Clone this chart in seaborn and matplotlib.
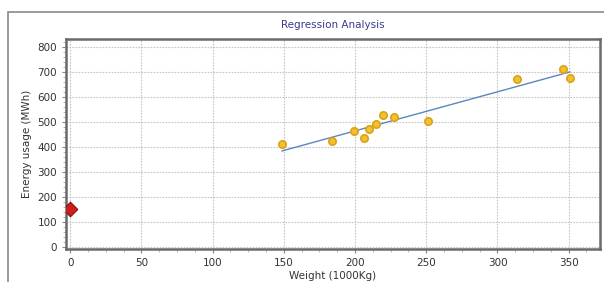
import numpy as np
import pandas as pd
import matplotlib
matplotlib.use("Agg")
import matplotlib.pyplot as plt
from matplotlib.ticker import MultipleLocator
from matplotlib.patches import Rectangle
import seaborn as sns

# data
weight = [148.6, 183.6, 199, 206, 209.5, 214.4, 219.9, 227, 251, 313.7, 346, 351]
energy = [410, 423, 462, 434, 469, 491, 528, 518, 502, 672, 709, 674]
baseline_x = [0]
baseline_y = [151]

df = pd.DataFrame({"Weight": weight, "Energy": energy})

sns.set_style("white")
plt.rcParams["font.family"] = ["DejaVu Sans"]

fig = plt.figure(figsize=(6.04, 2.82), dpi=100)
ax = fig.add_axes([66 / 604, 1 - 249 / 282, 534 / 604, 210 / 282])

# outer frame
fig.patches.append(Rectangle((8 / 604, -0.05), 1.1, 1 - 12 / 282 + 0.05,
                             transform=fig.transFigure, fill=False,
                             edgecolor="#8a8a8a", linewidth=1.2))

sns.regplot(data=df, x="Weight", y="Energy", ax=ax, ci=None, scatter=False,
            line_kws={"color": "#5b86c0", "linewidth": 1.0})
ax.scatter(weight, energy, s=28, color="#f2c12e", edgecolor="#dba21a",
           linewidth=1.2, zorder=3)
ax.scatter(baseline_x, baseline_y, s=55, marker="D", color="#cc1f1a",
           edgecolor="#8b1010", linewidth=0.8, zorder=3)

ax.set_xlim(-3, 372)
ax.set_ylim(-8, 830)
ax.xaxis.set_major_locator(MultipleLocator(50))
ax.yaxis.set_major_locator(MultipleLocator(100))
ax.xaxis.set_minor_locator(MultipleLocator(12.5))
ax.yaxis.set_minor_locator(MultipleLocator(20))
ax.grid(True, which="major", color="#c4c4c4", linestyle=(0, (1.5, 1.2)), linewidth=0.8)
ax.set_axisbelow(True)

for s in ax.spines.values():
    s.set_color("#6a6a6a")
    s.set_linewidth(1.8)

ax.tick_params(axis="both", which="major", length=3, width=0.8, color="#888888",
               labelsize=7.5, labelcolor="#333333", bottom=True, left=True)
ax.tick_params(axis="both", which="minor", length=2, width=0.6, color="#aaaaaa",
               bottom=True, left=True)

ax.set_xlabel("Weight (1000Kg)", fontsize=7.5, color="#333333", labelpad=2)
ax.set_ylabel("Energy usage (MWh)", fontsize=7.5, color="#333333", labelpad=4)
ax.set_title("Regression Analysis", fontsize=7.5, color="#3a3a8c", pad=8)

fig.savefig("out.png", dpi=100)
